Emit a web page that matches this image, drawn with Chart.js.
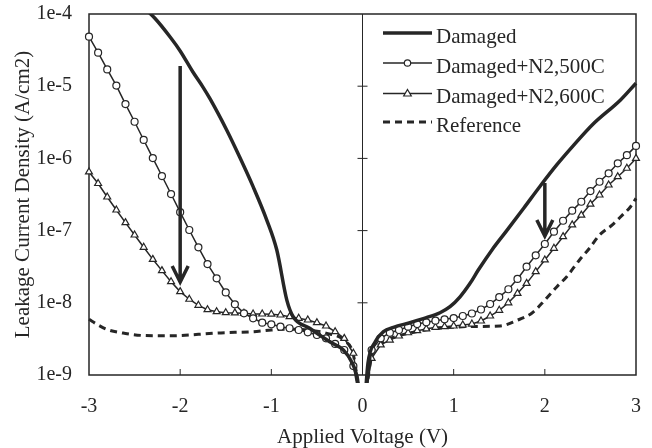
<!DOCTYPE html>
<html lang="en">
<head>
  <meta charset="UTF-8">
  <title>Leakage Current Density vs Applied Voltage</title>
  <script src="https://cdn.jsdelivr.net/npm/chart.js"></script>
  <style>
    body { margin: 0; background: #fff; }
  </style>
</head>
<body>
  <canvas id="ivChart" width="652" height="448"></canvas>

  <script>
    // voltages of the measured points (V)
    const voltsLeft = [-3.0, -2.9, -2.8, -2.7, -2.6, -2.5, -2.4, -2.3, -2.2, -2.1,
                       -2.0, -1.9, -1.8, -1.7, -1.6, -1.5, -1.4, -1.3, -1.2, -1.1,
                       -1.0, -0.9, -0.8, -0.7, -0.6, -0.5, -0.4, -0.3, -0.2, -0.1, -0.05];
    const voltsRight = [0.05, 0.1, 0.2, 0.3, 0.4, 0.5, 0.6, 0.7, 0.8, 0.9, 1.0,
                        1.1, 1.2, 1.3, 1.4, 1.5, 1.6, 1.7, 1.8, 1.9, 2.0,
                        2.1, 2.2, 2.3, 2.4, 2.5, 2.6, 2.7, 2.8, 2.9, 3.0];

    // Damaged+N2,500C (A/cm2)
    const n500Left = [4.85e-5, 2.91e-5, 1.71e-5, 1.02e-5, 5.66e-6, 3.22e-6, 1.80e-6, 1.01e-6, 5.70e-7, 3.21e-7,
                      1.80e-7, 1.02e-7, 5.87e-8, 3.44e-8, 2.18e-8, 1.39e-8, 9.53e-9, 7.16e-9, 6.10e-9, 5.30e-9,
                      5.04e-9, 4.67e-9, 4.44e-9, 4.20e-9, 3.90e-9, 3.58e-9, 3.22e-9, 2.69e-9, 2.22e-9, 1.33e-9, 6e-10];
    const n500Right = [6e-10, 2.22e-9, 3.22e-9, 3.85e-9, 4.20e-9, 4.67e-9, 5.08e-9, 5.37e-9, 5.65e-9, 5.90e-9, 6.15e-9,
                       6.56e-9, 7.11e-9, 8.07e-9, 9.62e-9, 1.20e-8, 1.54e-8, 2.14e-8, 3.16e-8, 4.55e-8, 6.52e-8,
                       9.66e-8, 1.37e-7, 1.89e-7, 2.51e-7, 3.53e-7, 4.75e-7, 6.22e-7, 8.55e-7, 1.11e-6, 1.49e-6];

    // Damaged+N2,600C (A/cm2)
    const n600Left = [6.49e-7, 4.49e-7, 2.92e-7, 1.93e-7, 1.29e-7, 8.69e-8, 5.87e-8, 4.00e-8, 2.79e-8, 1.96e-8,
                      1.43e-8, 1.12e-8, 9.23e-9, 8.02e-9, 7.53e-9, 7.29e-9, 7.25e-9, 7.16e-9, 7.00e-9, 7.00e-9,
                      6.95e-9, 6.78e-9, 6.42e-9, 6.10e-9, 5.78e-9, 5.30e-9, 4.77e-9, 3.98e-9, 3.22e-9, 2.00e-9, 7e-10];
    const n600Right = [7e-10, 1.70e-9, 2.61e-9, 3.05e-9, 3.47e-9, 3.85e-9, 4.11e-9, 4.34e-9, 4.58e-9, 4.67e-9, 4.77e-9,
                       4.93e-9, 5.08e-9, 5.60e-9, 6.56e-9, 7.87e-9, 1.00e-8, 1.35e-8, 1.86e-8, 2.70e-8, 3.92e-8,
                       5.69e-8, 8.24e-8, 1.20e-7, 1.64e-7, 2.33e-7, 3.11e-7, 4.28e-7, 5.58e-7, 7.30e-7, 1.00e-6];

    // Damaged (sampled along the curve)
    const damagedVoltsLeft = [-2.45, -2.28, -2.11, -2.0, -1.86, -1.75, -1.67, -1.49, -1.35, -1.20,
                              -1.05, -0.94, -0.83, -0.76, -0.58, -0.36, -0.21, -0.12, -0.06, -0.03];
    const damagedLeft = [1.4e-4, 8.8e-5, 4.8e-5, 3.08e-5, 1.57e-5, 9.7e-6, 6.6e-6, 2.47e-6, 1.06e-6, 4.06e-7,
                         1.40e-7, 5.38e-8, 1.09e-8, 6.41e-9, 4.44e-9, 2.89e-9, 2.22e-9, 1.53e-9, 9.5e-10, 5e-10];
    const damagedVoltsRight = [0.03, 0.06, 0.14, 0.23, 0.34, 0.52, 0.70, 0.85, 0.96, 1.07, 1.18,
                               1.27, 1.42, 1.58, 1.77, 1.95, 2.13, 2.31, 2.53, 2.83, 3.0];
    const damagedRight = [5e-10, 1.45e-9, 2.89e-9, 3.98e-9, 4.58e-9, 5.30e-9, 6.22e-9, 7.29e-9, 8.83e-9, 1.21e-8, 1.86e-8,
                          2.84e-8, 5.4e-8, 9.9e-8, 2.06e-7, 4.15e-7, 8.11e-7, 1.49e-6, 2.99e-6, 6.44e-6, 1.1e-5];

    // Reference
    const refVoltsLeft = [-3.0, -2.9, -2.8, -2.6, -2.4, -2.2, -2.0, -1.8, -1.6, -1.4, -1.2, -1.0,
                          -0.8, -0.6, -0.4, -0.2, -0.1, -0.04];
    const refLeft = [5.90e-9, 4.93e-9, 4.27e-9, 3.76e-9, 3.52e-9, 3.49e-9, 3.52e-9, 3.66e-9, 3.82e-9, 3.90e-9, 3.98e-9, 4.20e-9,
                     4.3e-9, 4.2e-9, 3.8e-9, 3.0e-9, 1.9e-9, 6e-10];
    const refVoltsRight = [0.04, 0.1, 0.2, 0.4, 0.6, 0.8, 1.0, 1.21, 1.51, 1.69, 1.86, 2.0,
                           2.13, 2.24, 2.38, 2.49, 2.6, 2.74, 2.85, 2.94, 3.0];
    const refRight = [6e-10, 1.8e-9, 2.7e-9, 3.5e-9, 4.0e-9, 4.4e-9, 4.6e-9, 4.70e-9, 4.77e-9, 5.69e-9, 7.23e-9, 1.09e-8,
                      1.66e-8, 2.30e-8, 3.92e-8, 5.69e-8, 8.69e-8, 1.20e-7, 1.64e-7, 2.14e-7, 2.80e-7];

    const xTicks = [-3, -2, -1, 0, 1, 2, 3];
    const yTicks = [1e-9, 1e-8, 1e-7, 1e-6, 1e-5, 1e-4];
    const yTickLabels = ["1e-9", "1e-8", "1e-7", "1e-6", "1e-5", "1e-4"];

    // annotation arrows: [voltage, from, to]
    const arrows = [[-2, 1.9e-5, 1.94e-8], [2, 4.56e-7, 8.4e-8]];

    const ink = "#262626";
    const serif = '"Liberation Serif", "Times New Roman", serif';

    // join both branches with a gap at 0 V
    function branches(vl, yl, vr, yr) {
      const pts = vl.map((v, i) => ({ x: v, y: yl[i] }));
      pts.push({ x: 0, y: null });
      return pts.concat(vr.map((v, i) => ({ x: v, y: yr[i] })));
    }

    const markerRadius = r => ctx => {
      const p = ctx.raw;
      return p && Math.abs(p.x) < 0.08 ? 0 : r;
    };

    // let layout.padding alone decide the plot box
    function noOverflow(s) {
      s.paddingTop = 0; s.paddingBottom = 0; s.paddingLeft = 0; s.paddingRight = 0;
    }

    const lineClip = { left: 6, right: 6, top: 0, bottom: 8 };

    const datasets = [
      {
        label: "Damaged",
        data: branches(damagedVoltsLeft, damagedLeft, damagedVoltsRight, damagedRight),
        borderColor: ink, borderWidth: 3.5, pointRadius: 0,
        cubicInterpolationMode: "monotone", clip: lineClip
      },
      {
        label: "Damaged+N2,500C",
        data: branches(voltsLeft, n500Left, voltsRight, n500Right),
        borderColor: ink, borderWidth: 1.5,
        pointStyle: "circle", pointRadius: markerRadius(3.5),
        pointBackgroundColor: "#fff", pointBorderColor: ink, pointBorderWidth: 1.2,
        clip: lineClip
      },
      {
        label: "Damaged+N2,600C",
        data: branches(voltsLeft, n600Left, voltsRight, n600Right),
        borderColor: ink, borderWidth: 1.5,
        pointStyle: "triangle", pointRadius: markerRadius(4),
        pointBackgroundColor: "#fff", pointBorderColor: ink, pointBorderWidth: 1.2,
        clip: lineClip
      },
      {
        label: "Reference",
        data: branches(refVoltsLeft, refLeft, refVoltsRight, refRight),
        borderColor: ink, borderWidth: 3, borderDash: [7, 5], pointRadius: 0,
        cubicInterpolationMode: "monotone", clip: lineClip
      }
    ];

    // frame, zero line with ticks, inner x ticks, arrows and legend
    const decorations = {
      id: "decorations",
      beforeDatasetsDraw(chart) {
        const { ctx, chartArea: a, scales: { x, y } } = chart;
        ctx.save();
        ctx.strokeStyle = ink;
        ctx.lineWidth = 1.5;
        ctx.strokeRect(a.left, a.top, a.right - a.left, a.bottom - a.top);
        const x0 = x.getPixelForValue(0);
        ctx.lineWidth = 1;
        ctx.beginPath();
        ctx.moveTo(x0, a.top);
        ctx.lineTo(x0, a.bottom);
        yTicks.slice(1, -1).forEach(v => {
          const py = y.getPixelForValue(v);
          ctx.moveTo(x0 - 5, py);
          ctx.lineTo(x0 + 5, py);
        });
        xTicks.slice(1, -1).forEach(v => {
          if (v === 0) return;
          const px = x.getPixelForValue(v);
          ctx.moveTo(px, a.bottom);
          ctx.lineTo(px, a.bottom - 6);
        });
        ctx.stroke();
        ctx.restore();
      },
      afterDatasetsDraw(chart) {
        const { ctx, scales: { x, y } } = chart;
        ctx.save();
        ctx.strokeStyle = ink;
        ctx.lineWidth = 3.5;
        ctx.lineJoin = "miter";
        arrows.forEach(([v, from, to]) => {
          const px = x.getPixelForValue(v);
          const y1 = y.getPixelForValue(from);
          const y2 = y.getPixelForValue(to);
          ctx.beginPath();
          ctx.moveTo(px, y1);
          ctx.lineTo(px, y2 - 2);
          ctx.moveTo(px - 8, y2 - 16);
          ctx.lineTo(px, y2);
          ctx.lineTo(px + 8, y2 - 16);
          ctx.stroke();
        });

        // legend
        const rows = [33, 63, 93.5, 122];
        const lx1 = 383, lx2 = 432, tx = 436;
        ctx.font = "21px " + serif;
        ctx.fillStyle = ink;
        ctx.textBaseline = "alphabetic";
        chart.data.datasets.forEach((ds, i) => {
          const ly = rows[i];
          ctx.save();
          ctx.lineWidth = ds.borderWidth;
          ctx.setLineDash(ds.borderDash || []);
          ctx.beginPath();
          ctx.moveTo(lx1, ly);
          ctx.lineTo(lx2, ly);
          ctx.stroke();
          ctx.restore();
          if (ds.pointStyle) {
            const cx = (lx1 + lx2) / 2;
            ctx.save();
            ctx.lineWidth = 1.2;
            ctx.fillStyle = "#fff";
            ctx.beginPath();
            if (ds.pointStyle === "circle") {
              ctx.arc(cx, ly, 3.2, 0, Math.PI * 2);
            } else {
              ctx.moveTo(cx, ly - 4);
              ctx.lineTo(cx + 3.8, ly + 2.5);
              ctx.lineTo(cx - 3.8, ly + 2.5);
              ctx.closePath();
            }
            ctx.fill();
            ctx.stroke();
            ctx.restore();
          }
          ctx.fillText(ds.label, tx, ly + 9.5);
        });
        ctx.restore();
      }
    };

    new Chart(document.getElementById("ivChart"), {
      type: "scatter",
      data: { datasets: datasets.map(d => ({ showLine: true, spanGaps: false, ...d })) },
      options: {
        responsive: false,
        animation: false,
        devicePixelRatio: 1,
        layout: { padding: { left: 0, right: 16, top: 14, bottom: 0 } },
        plugins: { legend: { display: false }, tooltip: { enabled: false } },
        scales: {
          x: {
            type: "linear", min: -3, max: 3,
            afterBuildTicks: s => { s.ticks = xTicks.map(v => ({ value: v })); },
            afterFit: s => { s.height = 73; noOverflow(s); },
            grid: { display: false, drawTicks: false },
            border: { display: false },
            ticks: { color: ink, font: { family: serif, size: 20 }, padding: 20, callback: v => String(v) },
            title: { display: true, text: "Applied Voltage (V)", color: ink,
                     font: { family: serif, size: 21 }, padding: { top: 0, bottom: -2 } }
          },
          y: {
            type: "logarithmic", min: 1e-9, max: 1e-4,
            afterBuildTicks: s => { s.ticks = yTicks.map(v => ({ value: v })); },
            afterFit: s => { s.width = 89; noOverflow(s); },
            grid: { display: false, drawTicks: false },
            border: { display: false },
            ticks: { color: ink, font: { family: serif, size: 20 }, padding: 17,
                     callback: (v, i) => yTickLabels[i] },
            title: { display: true, text: "Leakage Current Density (A/cm2)", color: ink,
                     font: { family: serif, size: 21 }, padding: { top: 11, bottom: 0 } }
          }
        }
      },
      plugins: [decorations]
    });
  </script>
</body>
</html>
